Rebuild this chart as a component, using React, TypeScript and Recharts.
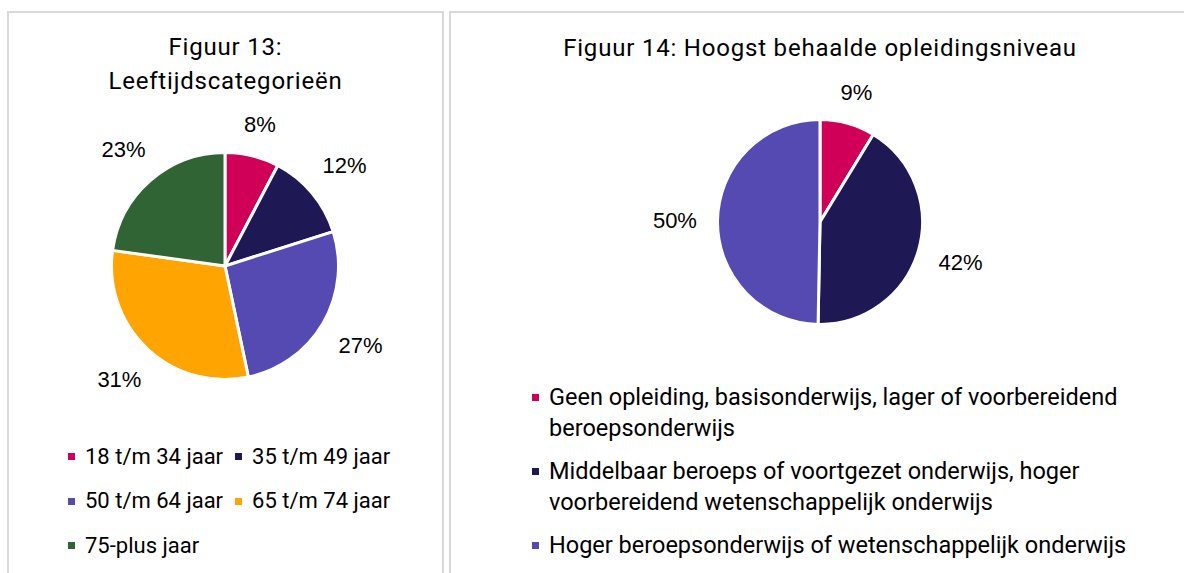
import React from 'react';
import { PieChart, Pie, Cell } from 'recharts';

// ---------- data ----------
const leftTitleLines = ['Figuur 13:', 'Leeftijdscategorieën'];
const leftCategories = ['18 t/m 34 jaar', '35 t/m 49 jaar', '50 t/m 64 jaar', '65 t/m 74 jaar', '75-plus jaar'];
const leftValues = [7.7, 12.4, 26.6, 30.5, 22.8];
const leftColors = ['#D00058', '#1E1955', '#544AB2', '#FFA400', '#316434'];

const rightTitle = 'Figuur 14: Hoogst behaalde opleidingsniveau';
const rightCategories = [
  'Geen opleiding, basisonderwijs, lager of voorbereidend beroepsonderwijs',
  'Middelbaar beroeps of voortgezet onderwijs, hoger voorbereidend wetenschappelijk onderwijs',
  'Hoger beroepsonderwijs of wetenschappelijk onderwijs',
];
const rightValues = [8.7, 41.6, 49.7];
const rightColors = ['#D00058', '#1E1955', '#544AB2'];

const leftData = leftCategories.map((name, i) => ({ name, value: leftValues[i] }));
const rightData = rightCategories.map((name, i) => ({ name, value: rightValues[i] }));

const RADIAN = Math.PI / 180;
const LABEL_FONT = 22;
const LABEL_GAP = 19;

const renderLabel = (props: any) => {
  const { cx, cy, midAngle, outerRadius, value } = props;
  const text = `${Math.round(value)}%`;
  const digits = text.length - 1;
  const w = (digits * 0.556 + 0.889) * LABEL_FONT;
  const h = 0.716 * LABEL_FONT;
  const dx = Math.cos(-midAngle * RADIAN);
  const dy = Math.sin(-midAngle * RADIAN);
  const extent = Math.abs(dx) * w / 2 + Math.abs(dy) * h / 2;
  const r = outerRadius + 1.5 + LABEL_GAP + extent;
  const x = cx + r * dx;
  const y = cy + r * dy;
  return (
    <text
      x={x}
      y={y}
      textAnchor="middle"
      dominantBaseline="central"
      fill="#000"
      fontFamily="'Liberation Sans', Arial, sans-serif"
      fontSize={LABEL_FONT}
    >
      {text}
    </text>
  );
};

const textFont = "Roboto, 'Noto Sans', sans-serif";

export default function App() {
  return (
    <div
      style={{
        position: 'absolute',
        left: 0,
        top: 0,
        width: 1184,
        height: 573,
        overflow: 'hidden',
        background: '#fff',
        fontFamily: textFont,
        color: '#000',
      }}
    >
      {/* panel frames */}
      <div
        style={{
          position: 'absolute',
          left: 7,
          top: 11,
          width: 437,
          height: 562,
          boxSizing: 'border-box',
          border: '2px solid #d9d9d9',
          borderBottom: 'none',
        }}
      />
      <div
        style={{
          position: 'absolute',
          left: 449,
          top: 11,
          width: 735,
          height: 562,
          boxSizing: 'border-box',
          border: '2px solid #d9d9d9',
          borderBottom: 'none',
          borderRight: 'none',
        }}
      />

      {/* left chart */}
      <div style={{ position: 'absolute', left: 0, top: 0 }}>
        <PieChart width={444} height={573} margin={{ top: 0, right: 0, bottom: 0, left: 0 }}>
          <Pie
            data={leftData}
            dataKey="value"
            nameKey="name"
            cx={225}
            cy={266}
            outerRadius={113.5}
            startAngle={90}
            endAngle={-270}
            stroke="#fff"
            strokeWidth={3}
            label={renderLabel}
            labelLine={false}
            isAnimationActive={false}
          >
            {leftData.map((d, i) => (
              <Cell key={d.name} fill={leftColors[i]} />
            ))}
          </Pie>
        </PieChart>
      </div>

      {/* right chart */}
      <div style={{ position: 'absolute', left: 449, top: 0 }}>
        <PieChart width={735} height={573} margin={{ top: 0, right: 0, bottom: 0, left: 0 }}>
          <Pie
            data={rightData}
            dataKey="value"
            nameKey="name"
            cx={371}
            cy={222}
            outerRadius={102.5}
            startAngle={90}
            endAngle={-270}
            stroke="#fff"
            strokeWidth={3}
            label={renderLabel}
            labelLine={false}
            isAnimationActive={false}
          >
            {rightData.map((d, i) => (
              <Cell key={d.name} fill={rightColors[i]} />
            ))}
          </Pie>
        </PieChart>
      </div>

      {/* left title */}
      <div
        style={{
          position: 'absolute',
          left: 7,
          top: 30,
          width: 437,
          textAlign: 'center',
          fontSize: 24,
          letterSpacing: 0.8,
          lineHeight: '34px',
        }}
      >
        {leftTitleLines.map((l) => (
          <div key={l}>{l}</div>
        ))}
      </div>

      {/* right title */}
      <div
        style={{
          position: 'absolute',
          left: 449,
          top: 31,
          width: 742,
          textAlign: 'center',
          fontSize: 24,
          letterSpacing: 0.8,
          lineHeight: '34px',
          whiteSpace: 'nowrap',
        }}
      >
        {rightTitle}
      </div>

      {/* left legend */}
      <div
        style={{
          position: 'absolute',
          left: 68,
          top: 434.5,
          width: 360,
          display: 'flex',
          flexWrap: 'wrap',
          fontSize: 22,
          lineHeight: '44.5px',
        }}
      >
        {leftCategories.map((c, i) => (
          <div key={c} style={{ display: 'flex', alignItems: 'center', marginRight: 12, whiteSpace: 'nowrap' }}>
            <span style={{ width: 7, height: 7, background: leftColors[i], marginRight: 10, flex: 'none' }} />
            <span>{c}</span>
          </div>
        ))}
      </div>

      {/* right legend */}
      <div
        style={{
          position: 'absolute',
          left: 532,
          top: 381.5,
          width: 620,
          fontSize: 23.5,
          lineHeight: '31px',
        }}
      >
        {rightCategories.map((c, i) => (
          <div key={c} style={{ display: 'flex', alignItems: 'flex-start', marginBottom: 12 }}>
            <span
              style={{
                width: 7,
                height: 7,
                background: rightColors[i],
                marginRight: 10,
                marginTop: 12,
                flex: 'none',
              }}
            />
            <span>{c}</span>
          </div>
        ))}
      </div>
    </div>
  );
}
